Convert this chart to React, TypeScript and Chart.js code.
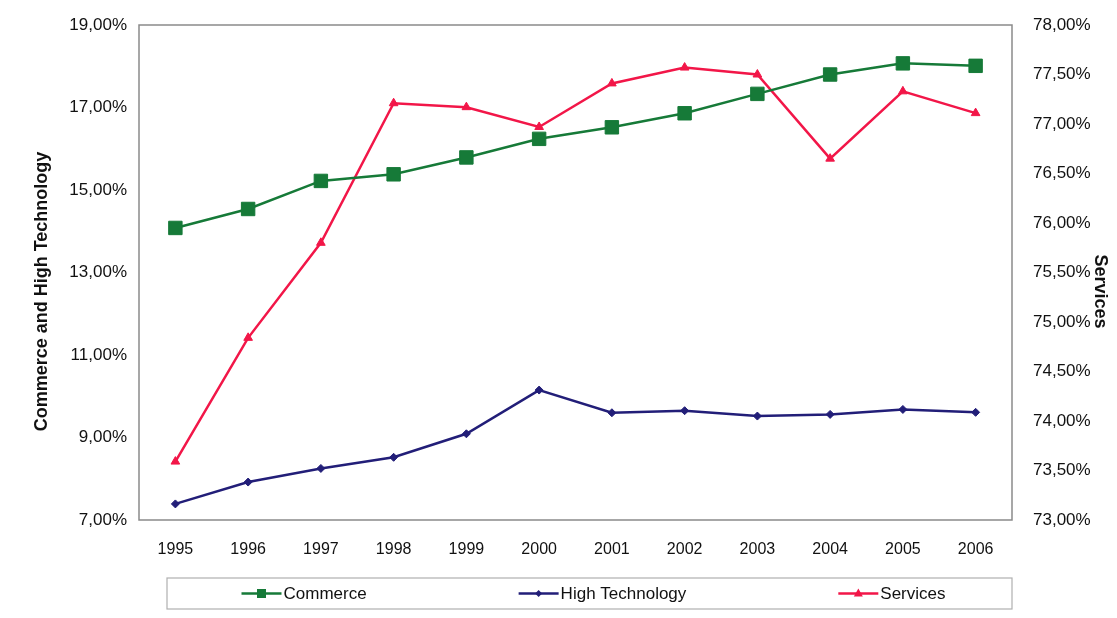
import React, { useEffect, useRef } from "react";
import { Chart, registerables } from "chart.js";

Chart.register(...registerables);

const years = ["1995", "1996", "1997", "1998", "1999", "2000", "2001", "2002", "2003", "2004", "2005", "2006"];
const commerce = [14.08, 14.54, 15.22, 15.38, 15.79, 16.24, 16.52, 16.86, 17.33, 17.8, 18.07, 18.01];
const highTech = [7.39, 7.92, 8.25, 8.52, 9.09, 10.15, 9.6, 9.65, 9.52, 9.56, 9.68, 9.61];
const services = [73.59, 74.84, 75.8, 77.21, 77.17, 76.97, 77.41, 77.57, 77.5, 76.65, 77.33, 77.11];

const leftTitle = "Commerce and High Technology";
const rightTitle = "Services";

const GREEN = "rgb(22,122,56)";
const NAVY = "rgb(34,30,120)";
const RED = "rgb(242,22,72)";
const FONT = "'Liberation Sans', Arial, sans-serif";

const fmt = (v: number) => Number(v).toFixed(2).replace(".", ",") + "%";

function drawMarker(ctx: CanvasRenderingContext2D, style: string, x: number, y: number, r: number) {
  ctx.beginPath();
  if (style === "rect") {
    ctx.rect(x - r, y - r, 2 * r, 2 * r);
  } else if (style === "rectRot") {
    ctx.moveTo(x, y - r);
    ctx.lineTo(x + r, y);
    ctx.lineTo(x, y + r);
    ctx.lineTo(x - r, y);
    ctx.closePath();
  } else {
    ctx.moveTo(x, y - r);
    ctx.lineTo(x + r * 0.9, y + r * 0.6);
    ctx.lineTo(x - r * 0.9, y + r * 0.6);
    ctx.closePath();
  }
  ctx.fill();
}

const decorPlugin = {
  id: "decor",
  afterDraw(chart: any) {
    const { ctx, chartArea } = chart;
    const { left, right, top, bottom } = chartArea;
    ctx.save();
    // plot border
    ctx.strokeStyle = "#8a8a8a";
    ctx.lineWidth = 1.5;
    ctx.strokeRect(left, top, right - left, bottom - top);

    // axis titles
    ctx.fillStyle = "#111";
    ctx.font = `bold 18px ${FONT}`;
    ctx.textAlign = "center";
    ctx.textBaseline = "middle";
    const cy = (top + bottom) / 2 + 19;
    ctx.save();
    ctx.translate(42, cy);
    ctx.rotate(-Math.PI / 2);
    ctx.fillText(leftTitle, 0, 0);
    ctx.restore();
    ctx.save();
    ctx.translate(1100, cy);
    ctx.rotate(Math.PI / 2);
    ctx.fillText(rightTitle, 0, 0);
    ctx.restore();

    // legend box
    const boxL = left + 28;
    const boxR = right;
    const boxT = bottom + 58;
    const boxB = bottom + 89;
    ctx.strokeStyle = "#b0b0b0";
    ctx.lineWidth = 1.2;
    ctx.strokeRect(boxL, boxT, boxR - boxL, boxB - boxT);

    const items = [
      { label: "Commerce", color: GREEN, style: "rect", r: 4.5 },
      { label: "High Technology", color: NAVY, style: "rectRot", r: 3.5 },
      { label: "Services", color: RED, style: "triangle", r: 5 },
    ];
    ctx.font = `17px ${FONT}`;
    const lineW = 40;
    const gapText = 2;
    const gap = 152;
    const widths = items.map((it) => lineW + gapText + ctx.measureText(it.label).width);
    const total = widths.reduce((a, b) => a + b, 0) + gap * (items.length - 1);
    let x = (boxL + boxR) / 2 - total / 2 + 4;
    const y = (boxT + boxB) / 2;
    items.forEach((it, i) => {
      ctx.strokeStyle = it.color;
      ctx.lineWidth = 2.5;
      ctx.beginPath();
      ctx.moveTo(x, y);
      ctx.lineTo(x + lineW, y);
      ctx.stroke();
      ctx.fillStyle = it.color;
      drawMarker(ctx, it.style, x + lineW / 2, y, it.r);
      ctx.fillStyle = "#111";
      ctx.textAlign = "left";
      ctx.textBaseline = "middle";
      ctx.fillText(it.label, x + lineW + gapText, y + 1);
      x += widths[i] + gap;
    });
    ctx.restore();
  },
};

export default function App() {
  const ref = useRef<HTMLCanvasElement | null>(null);
  useEffect(() => {
    if (!ref.current) return;
    const chart = new Chart(ref.current, {
      type: "line",
      data: {
        labels: years,
        datasets: [
          {
            label: "Commerce",
            data: commerce,
            yAxisID: "y",
            borderColor: GREEN,
            backgroundColor: GREEN,
            borderWidth: 2.5,
            pointStyle: "rect",
            pointRadius: 9.5,
            pointBorderWidth: 1,
            tension: 0,
          },
          {
            label: "High Technology",
            data: highTech,
            yAxisID: "y",
            borderColor: NAVY,
            backgroundColor: NAVY,
            borderWidth: 2.5,
            pointStyle: "rectRot",
            pointRadius: 4,
            pointBorderWidth: 1,
            tension: 0,
          },
          {
            label: "Services",
            data: services,
            yAxisID: "y1",
            borderColor: RED,
            backgroundColor: RED,
            borderWidth: 2.5,
            pointStyle: "triangle",
            pointRadius: 5,
            pointBorderWidth: 1,
            tension: 0,
          },
        ],
      },
      options: {
        animation: false,
        responsive: false,
        devicePixelRatio: 1,
        layout: { padding: { top: 25, left: 0, right: 0, bottom: 0 } },
        plugins: {
          legend: { display: false },
          tooltip: { enabled: false },
          title: { display: false },
        },
        scales: {
          x: {
            offset: true,
            grid: { display: false, drawTicks: false },
            border: { display: false },
            ticks: {
              padding: 20,
              color: "#111",
              font: { family: FONT, size: 16 },
              maxRotation: 0,
            },
            afterFit: (s: any) => {
              s.height = 98;
            },
          },
          y: {
            position: "left",
            min: 7,
            max: 19,
            grid: { display: false, drawTicks: true, tickLength: 4, color: "#8a8a8a" },
            border: { display: false },
            ticks: {
              stepSize: 2,
              padding: 8,
              color: "#111",
              font: { family: FONT, size: 17 },
              callback: (v: any) => fmt(v),
            },
            afterFit: (s: any) => {
              s.width = 139;
            },
          },
          y1: {
            position: "right",
            min: 73,
            max: 78,
            grid: { display: false, drawOnChartArea: false },
            border: { display: false },
            ticks: {
              stepSize: 0.5,
              padding: 13,
              color: "#111",
              font: { family: FONT, size: 17 },
              callback: (v: any) => fmt(v),
            },
            afterFit: (s: any) => {
              s.width = 105;
            },
          },
        },
      },
      plugins: [decorPlugin],
    });
    return () => chart.destroy();
  }, []);
  return (
    <div style={{ position: "fixed", left: 0, top: 0, width: 1117, height: 618, background: "#fff" }}>
      <canvas ref={ref} width={1117} height={618} style={{ width: 1117, height: 618 }} />
    </div>
  );
}
